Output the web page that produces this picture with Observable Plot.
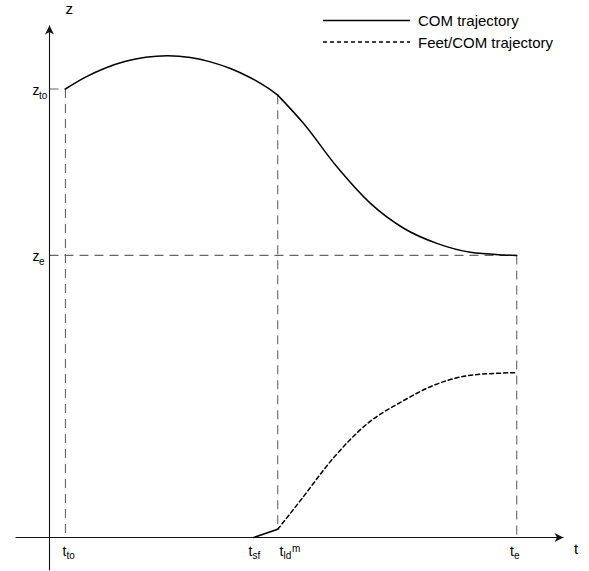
<!DOCTYPE html>
<html><head><meta charset="utf-8">
<script src="https://cdn.jsdelivr.net/npm/d3@7"></script>
<script src="https://cdn.jsdelivr.net/npm/@observablehq/plot@0.6"></script>
<style>
html,body{margin:0;padding:0;background:#fff;}
#wrap{position:relative;width:589px;height:571px;}
#legend{position:absolute;left:0;top:0;}
</style></head><body>
<div id="wrap"><div id="chart"></div><svg id="legend" width="589" height="60"></svg></div>
<script>
// key instants (t) and heights (z), chart units
const tTo = 3.1, tSf = 39.7, tLd = 44.4, tE = 90.9;
const zTo = 87.6, zE = 55.1;
const tMin = -6.6, tMax = 100, zMin = -6.4, zMax = 100;

// COM trajectory: flight phase then landing phase
const comT1 = [3.1, 7.0, 10.9, 14.8, 18.7, 23.0, 27.4, 31.3, 35.2, 39.1, 42.0, 44.4];
const comZ1 = [87.6, 89.9, 91.7, 93.0, 93.8, 94.1, 93.75, 92.9, 91.6, 89.8, 88.1, 86.4];
const comT2 = [44.4, 49.4, 56.0, 62.5, 68.9, 75.5, 81.9, 88.3, 90.9];
const comZ2 = [86.4, 80.9, 72.3, 65.2, 60.4, 57.4, 55.7, 55.2, 55.1];

// Feet/COM trajectory
const feetT1 = [39.7, 44.4];
const feetZ1 = [0, 1.6];
const feetT2 = [44.4, 48.8, 55.3, 61.9, 68.3, 74.7, 81.3, 87.7, 90.9];
const feetZ2 = [1.6, 7.2, 15.6, 22.3, 26.4, 29.7, 31.6, 32.1, 32.2];

// tick labels
const tTickPos = [tTo, tSf, tLd, tE];
const tTickSub = ["to", "sf", "ld", "e"];
const tTickSup = ["", "", "m", ""];
const zTickPos = [zTo, zE];
const zTickSub = ["to", "e"];

const legendLabels = ["COM trajectory", "Feet/COM trajectory"];

const comA = comT1.map((t, i) => ({t, z: comZ1[i]}));
const comB = comT2.map((t, i) => ({t, z: comZ2[i]}));
const feetA = feetT1.map((t, i) => ({t, z: feetZ1[i]}));
const feetB = feetT2.map((t, i) => ({t, z: feetZ2[i]}));

const guides = [
  {x1: tTo, y1: zTo, x2: tTo, y2: 0},
  {x1: 0, y1: zTo, x2: tTo, y2: zTo},
  {x1: tLd, y1: comZ1[comZ1.length - 1], x2: tLd, y2: feetZ1[feetZ1.length - 1]},
  {x1: 0, y1: zE, x2: tE, y2: zE},
  {x1: tE, y1: zE, x2: tE, y2: 0}
];
const axes = [
  {x1: tMin, y1: 0, x2: tMax, y2: 0},
  {x1: 0, y1: zMin, x2: 0, y2: zMax}
];

const arrowRight = {draw(ctx) { ctx.moveTo(0, 0); ctx.lineTo(-9, -4.5); ctx.lineTo(-6.5, 0); ctx.lineTo(-9, 4.5); ctx.closePath(); }};
const arrowUp = {draw(ctx) { ctx.moveTo(0, 0); ctx.lineTo(-4.5, 9); ctx.lineTo(0, 6.5); ctx.lineTo(4.5, 9); ctx.closePath(); }};

const tDx = [-3, -5, 1.7, -6.7];
const tickMarks = tTickPos.flatMap((x, i) => {
  const m = [
    Plot.text([x], {x: d => d, y: () => 0, text: () => "t", textAnchor: "start", lineAnchor: "bottom", dx: tDx[i], dy: 18, fontSize: 14}),
    Plot.text([x], {x: d => d, y: () => 0, text: () => tTickSub[i], textAnchor: "start", lineAnchor: "bottom", dx: tDx[i] + 4, dy: 21, fontSize: 10})
  ];
  if (tTickSup[i]) m.push(Plot.text([x], {x: d => d, y: () => 0, text: () => tTickSup[i], textAnchor: "start", lineAnchor: "bottom", dx: tDx[i] + 12.5, dy: 14, fontSize: 10}));
  return m;
});
const zMarks = zTickPos.flatMap((y, i) => [
  Plot.text([y], {x: () => 0, y: d => d, text: () => "z", textAnchor: "start", lineAnchor: "bottom", dx: -17, dy: 6, fontSize: 14}),
  Plot.text([y], {x: () => 0, y: d => d, text: () => zTickSub[i], textAnchor: "start", lineAnchor: "bottom", dx: -10.5, dy: 10, fontSize: 10})
]);

const chart = Plot.plot({
  width: 589, height: 571,
  marginLeft: 49, marginRight: 26, marginTop: 25, marginBottom: 34,
  x: {domain: [0, 100], axis: null},
  y: {domain: [0, 100], axis: null},
  style: {fontFamily: "'Liberation Sans', Arial, sans-serif", background: "#fff", color: "#000"},
  marks: [
    Plot.link(guides, {x1: "x1", y1: "y1", x2: "x2", y2: "y2", stroke: "#666", strokeWidth: 1.1, strokeDasharray: "9,6"}),
    Plot.link(axes, {x1: "x1", y1: "y1", x2: "x2", y2: "y2", stroke: "#111", strokeWidth: 1.1}),
    Plot.dot([{x: tMax, y: 0}], {x: "x", y: "y", symbol: arrowRight, fill: "#111", stroke: "none"}),
    Plot.dot([{x: 0, y: zMax}], {x: "x", y: "y", symbol: arrowUp, fill: "#111", stroke: "none"}),
    Plot.line(comA, {x: "t", y: "z", curve: "natural", stroke: "#000", strokeWidth: 1.5}),
    Plot.line(comB, {x: "t", y: "z", curve: "monotone-x", stroke: "#000", strokeWidth: 1.5}),
    Plot.line(feetA, {x: "t", y: "z", stroke: "#000", strokeWidth: 1.5}),
    Plot.line(feetB, {x: "t", y: "z", curve: "monotone-x", stroke: "#000", strokeWidth: 1.5, strokeDasharray: "4,3"}),
    ...tickMarks,
    ...zMarks,
    Plot.text(["z"], {x: () => 0, y: () => zMax, text: d => d, textAnchor: "start", lineAnchor: "bottom", dx: 16, dy: -12, fontSize: 15}),
    Plot.text(["t"], {x: () => tMax, y: () => 0, text: d => d, textAnchor: "start", lineAnchor: "bottom", dx: 10.5, dy: 16, fontSize: 15})
  ]
});
document.getElementById("chart").appendChild(chart);

// legend overlay
const lg = d3.select("#legend");
const rows = [{y: 20.5, dash: null}, {y: 42, dash: "4,3"}];
rows.forEach((r, i) => {
  lg.append("line").attr("x1", 323).attr("x2", 410).attr("y1", r.y).attr("y2", r.y)
    .attr("stroke", "#000").attr("stroke-width", 1.3).attr("stroke-dasharray", r.dash);
  lg.append("text").attr("x", 418).attr("y", r.y + 5.5).text(legendLabels[i])
    .attr("font-family", "'Liberation Sans', Arial, sans-serif").attr("font-size", 15).attr("fill", "#000");
});
</script>
</body></html>
